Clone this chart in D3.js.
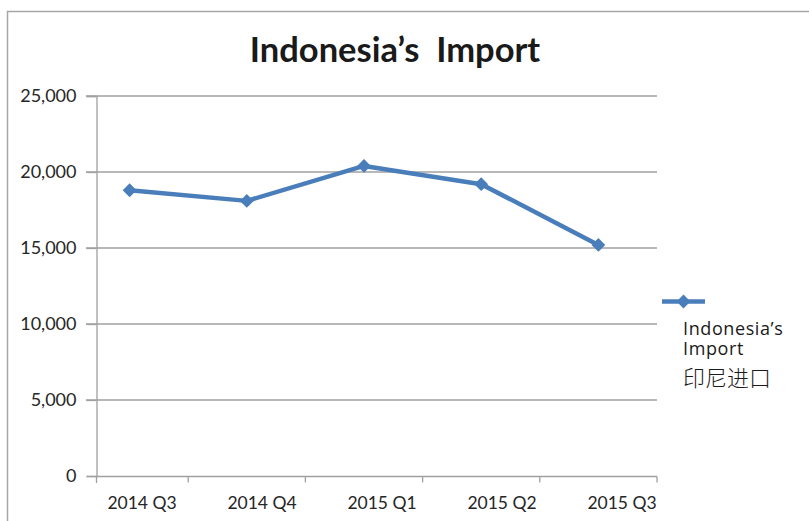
<!DOCTYPE html>
<html>
<head>
<meta charset="utf-8">
<script src="https://cdn.jsdelivr.net/npm/d3@7"></script>
<style>
  body { margin: 0; background: #fff; }
  svg { display: block; font-family: Lato, "Open Sans", sans-serif; }
</style>
</head>
<body>
<svg width="809" height="521"></svg>
<script>
// quarters and import values
const quarters = ['2014 Q3', '2014 Q4', '2015 Q1', '2015 Q2', '2015 Q3'];
const imports = [18800, 18100, 20400, 19200, 15200];
const yTicks = [0, 5000, 10000, 15000, 20000, 25000];
const seriesName = ['Indonesia’s', 'Import', '印尼进口'];

const svg = d3.select('svg');
const blue = '#4a7ebb';

// outer chart border (runs off the right / bottom edge)
svg.append('rect')
  .attr('x', 7.5).attr('y', 11.5)
  .attr('width', 900).attr('height', 600)
  .attr('fill', 'none').attr('stroke', '#a6a6a6').attr('stroke-width', 1.5);

svg.append('text')
  .attr('x', 395).attr('y', 62)
  .attr('text-anchor', 'middle')
  .style('white-space', 'pre')
  .style('font-size', '34.5px').style('font-weight', 'bold').style('fill', '#1a1a1a')
  .text('Indonesia’s  Import');

var x = d3.scaleBand().domain(quarters).range([71, 657]);
var xLabel = d3.scalePoint().domain(quarters).range([142, 622]);
var y = d3.scaleLinear().domain([0, 25000]).range([476, 96]);

// gridlines
svg.append('g')
  .selectAll('line')
  .data(yTicks.filter(d => d > 0))
  .enter().append('line')
  .attr('x1', 86).attr('x2', 657)
  .attr('y1', d => y(d)).attr('y2', d => y(d))
  .attr('stroke', '#a0a0a0').attr('stroke-width', 1.3);

// y axis
var yAxis = svg.append('g')
  .attr('transform', 'translate(96.5,0)')
  .call(d3.axisLeft(y).tickValues(yTicks).tickSize(10).tickPadding(10).tickFormat(d3.format(',')));
yAxis.select('.domain').attr('stroke', '#a0a0a0').attr('stroke-width', 1.3);
yAxis.selectAll('.tick line').attr('stroke', '#a0a0a0').attr('stroke-width', 1.3);
yAxis.selectAll('text').style('font-size', '18px').style('fill', '#262626')
  .style('font-family', 'Lato, sans-serif');

// x axis
var xg = svg.append('g').attr('transform', 'translate(0,476.5)');
xg.append('line').attr('x1', 96).attr('x2', 657).attr('stroke', '#a0a0a0').attr('stroke-width', 1.3);
xg.selectAll('.xt')
  .data(quarters)
  .enter().append('line')
  .attr('x1', d => x(d) + x.bandwidth()).attr('x2', d => x(d) + x.bandwidth())
  .attr('y1', 0).attr('y2', 6)
  .attr('stroke', '#a0a0a0').attr('stroke-width', 1.3);
svg.append('line').attr('x1', 96.5).attr('x2', 96.5).attr('y1', 476).attr('y2', 483)
  .attr('stroke', '#a0a0a0').attr('stroke-width', 1.3);
xg.selectAll('text')
  .data(quarters)
  .enter().append('text')
  .attr('x', d => xLabel(d)).attr('y', 32)
  .attr('text-anchor', 'middle')
  .style('font-size', '17.5px').style('fill', '#262626')
  .text(d => d);

// the line
var pts = quarters.map((q, i) => [x(q) + x.bandwidth() / 2, y(imports[i])]);
svg.append('path')
  .attr('d', d3.line()(pts))
  .attr('fill', 'none').attr('stroke', blue).attr('stroke-width', 4.5)
  .attr('stroke-linejoin', 'round');

var diamond = d3.symbol().type(d3.symbolSquare).size(95);
svg.selectAll('.mk')
  .data(pts)
  .enter().append('path')
  .attr('d', diamond)
  .attr('transform', d => 'translate(' + d[0] + ',' + d[1] + ') rotate(45)')
  .attr('fill', blue);

// legend
svg.append('line').attr('x1', 662).attr('x2', 705).attr('y1', 301.5).attr('y2', 301.5)
  .attr('stroke', blue).attr('stroke-width', 4.5);
svg.append('path').attr('d', diamond)
  .attr('transform', 'translate(683.5,301.5) rotate(45)').attr('fill', blue);
svg.append('g').selectAll('text')
  .data(seriesName)
  .enter().append('text')
  .attr('x', 683)
  .attr('y', (d, i) => [334.5, 354.5, 386][i])
  .style('font-size', (d, i) => i == 2 ? '22px' : '18px')
  .style('letter-spacing', (d, i) => i == 2 ? '0px' : '0.6px')
  .style('font-family', (d, i) => i == 2 ? '"Noto Sans CJK SC", sans-serif' : '"Open Sans", sans-serif')
  .style('font-weight', (d, i) => i == 2 ? 300 : 400)
  .style('fill', '#1a1a1a')
  .text(d => d);
</script>
</body>
</html>
